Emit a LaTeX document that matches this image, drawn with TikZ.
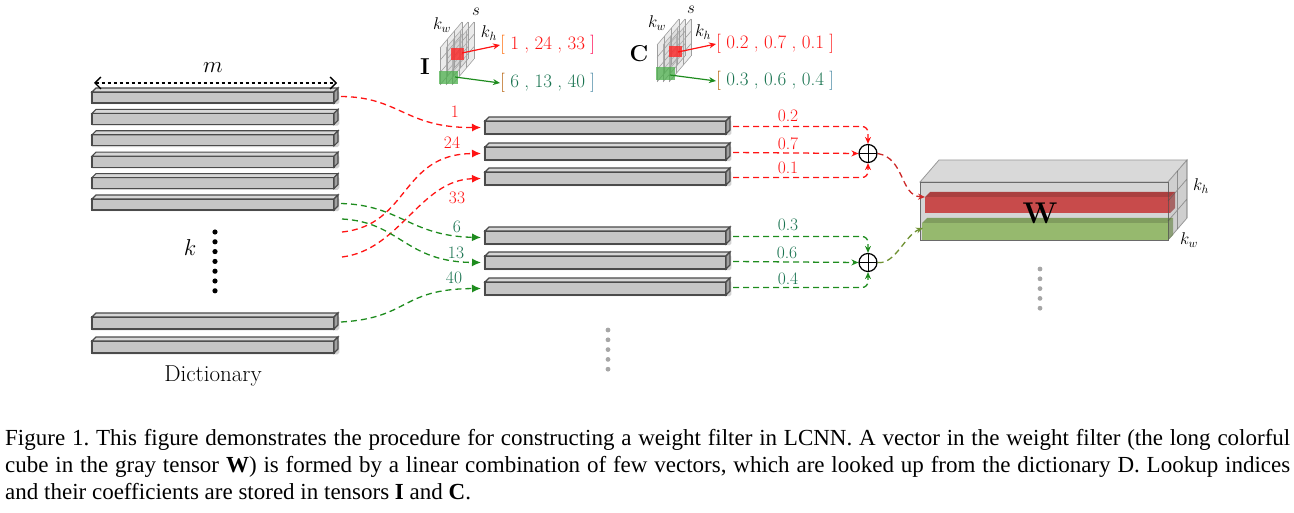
\RequirePackage{fix-cm}
\documentclass[tikz,border=0pt]{standalone}
\usepackage{fontspec}
\newfontfamily\capfont{Liberation Serif}
\usetikzlibrary{arrows.meta,calc}
\definecolor{barfill}{RGB}{198,198,198}
\definecolor{bartop}{RGB}{215,215,215}
\definecolor{barend}{RGB}{160,160,160}
\definecolor{baredge}{RGB}{75,75,75}
\definecolor{myred}{RGB}{255,20,20}
\definecolor{mygreen}{RGB}{30,140,30}
\definecolor{tealtxt}{RGB}{25,115,80}
\definecolor{wred}{RGB}{200,75,75}
\definecolor{wgreen}{RGB}{150,185,110}
\definecolor{olivearr}{RGB}{110,145,50}
\definecolor{darkredarr}{RGB}{205,40,40}
\newcommand{\vsp}{\hspace{5.4pt}}
\newcommand{\flatbar}[5]{%
  \draw[gray!35,line width=2.5pt,rounded corners=1pt] ({#2},{#3}) rectangle ++({#4+4},{#5});
  \filldraw[fill=barfill,draw=baredge,line width=1.1pt] ({#2},{#3}) rectangle ++({#4},{#5});
  \filldraw[fill=bartop,draw=baredge,line width=1.1pt] ({#2},{#3}) -- ++(4,-4) -- ++({#4},0) -- ++(-4,4) -- cycle;
  \filldraw[fill=barend,draw=baredge,line width=1.1pt] ({#2+#4},{#3}) -- ++(4,-4) -- ++(0,{#5}) -- ++(-4,4) -- cycle;
  \coordinate (#1w) at ({#2-4},{#3+#5/2});
  \coordinate (#1e) at ({#2+#4+7},{#3+#5/2-1});
}
\newcommand{\slicecube}[2]{%
  \foreach \i in {2,1,0}{%
    \begin{scope}[shift={({#1+6*\i},{#2})}]
      \fill[gray!45,opacity=0.35] (0,0) -- (0,-37) -- (22,-63) -- (22,-26) -- cycle;
      \foreach \t in {0,0.3333,0.6667,1}{%
        \draw[gray!75,line width=0.6pt] (0,{-37*\t}) -- (22,{-26-37*\t});
        \draw[gray!75,line width=0.6pt] ({22*\t},{-26*\t}) -- ({22*\t},{-26*\t-37});
      }
    \end{scope}
  }
}
\tikzset{
  dashr/.style={myred,dash pattern=on 6pt off 4pt,line width=1.3pt},
  dashg/.style={mygreen,dash pattern=on 6pt off 4pt,line width=1.3pt},
  bigtip/.style={-{Latex[length=9pt,width=8pt]}},
  smalltip/.style={-{Stealth[length=7pt,width=6pt]}},
  numlab/.style={font=\fontsize{17.5}{20}\selectfont,inner sep=0pt},
  vecrow/.style={font=\fontsize{19}{22}\selectfont,inner sep=0pt,anchor=west},
  bigtxt/.style={font=\fontsize{23}{27}\selectfont,inner sep=0pt},
  cubelab/.style={font=\fontsize{17}{20}\selectfont,inner sep=0pt},
  caplab/.style={font=\capfont\fontsize{23}{27}\selectfont\frenchspacing,inner sep=0pt,anchor=base west},
  oplusnode/.style={circle,draw,line width=1.2pt,minimum size=18pt,inner sep=0pt,
    path picture={\draw[line width=1pt] (path picture bounding box.north) -- (path picture bounding box.south)
      (path picture bounding box.west) -- (path picture bounding box.east);}},
}
\begin{document}
\begin{tikzpicture}[x=1pt,y=-1pt]
\useasboundingbox (0,0) rectangle (1294,513);
% ---------- Dictionary ----------
\flatbar{d1}{92}{92}{242}{11}
\flatbar{d2}{92}{113.4}{242}{11}
\flatbar{d3}{92}{134.8}{242}{11}
\flatbar{d4}{92}{156.2}{242}{11}
\flatbar{d5}{92}{177.6}{242}{11}
\flatbar{d6}{92}{199}{242}{11}
\flatbar{d7}{92}{317}{242}{12}
\flatbar{d8}{92}{341}{242}{12}
\coordinate (mL) at (94,83);
\coordinate (mR) at (337,83);
\draw[dashed,line width=1.3pt,{Straight Barb[length=6pt,width=12pt]}-{Straight Barb[length=6pt,width=12pt]}] (mL) -- (mR);
\node[bigtxt] (mlab) at (213,68) {$m$};
\node[bigtxt] (klab) at (190,248) {$k$};
\foreach \k in {0,...,6} \fill (215,{232+\k*9.8}) circle (2.6pt);
\node[bigtxt] (dict) at (213,376) {Dictionary};
% ---------- middle bars ----------
\flatbar{m1}{485}{121}{241}{13}
\flatbar{m2}{485}{147}{241}{13}
\flatbar{m3}{485}{172}{241}{13}
\flatbar{m4}{485}{231}{241}{13}
\flatbar{m5}{485}{256}{241}{13}
\flatbar{m6}{485}{282}{241}{13}
\foreach \k in {0,...,4} \fill[gray!70] (608,{330+\k*9.8}) circle (2.4pt);
% free ends of lookup connectors
\coordinate (r2s) at (342,232);
\coordinate (r3s) at (342,257);
\coordinate (g2s) at (342,219);
% red lookups
\draw[dashr,bigtip] (d1e) .. controls (400,97) and (405,128) .. (m1w);
\draw[dashr,bigtip] (r2s) .. controls (410,225) and (400,154) .. (m2w);
\draw[dashr,bigtip] (r3s) .. controls (400,250) and (420,180) .. (m3w);
% green lookups
\draw[dashg,bigtip] (d6e) .. controls (400,205) and (410,236) .. (m4w);
\draw[dashg,bigtip] (g2s) .. controls (400,222) and (405,262) .. (m5w);
\draw[dashg,bigtip] (d7e) .. controls (410,318) and (400,289) .. (m6w);
\node[numlab,myred] (n1) at (455,112) {1};
\node[numlab,myred] (n24) at (452,143) {24};
\node[numlab,myred] (n33) at (457,198) {33};
\node[numlab,tealtxt] (n6) at (457,227) {6};
\node[numlab,tealtxt] (n13) at (456,253) {13};
\node[numlab,tealtxt] (n40) at (454,278) {40};
% ---------- sums ----------
\node[oplusnode] (p1) at (868,153.5) {};
\node[oplusnode] (p2) at (868,262.5) {};
\draw[dashr,smalltip,rounded corners=6pt] (m1e) -| (p1.north);
\draw[dashr,smalltip] (m2e) -- (p1.west);
\draw[dashr,smalltip,rounded corners=6pt] (m3e) -| (p1.south);
\draw[dashg,smalltip,rounded corners=6pt] (m4e) -| (p2.north);
\draw[dashg,smalltip] (m5e) -- (p2.west);
\draw[dashg,smalltip,rounded corners=6pt] (m6e) -| (p2.south);
\node[numlab,myred] (c1) at (788,116) {0.2};
\node[numlab,myred] (c2) at (788,144) {0.7};
\node[numlab,myred] (c3) at (788,168) {0.1};
\node[numlab,tealtxt] (c4) at (788,225) {0.3};
\node[numlab,tealtxt] (c5) at (787,253) {0.6};
\node[numlab,tealtxt] (c6) at (788,279) {0.4};
% ---------- W tensor ----------
\filldraw[fill=gray!30,draw=gray!80,line width=0.8pt] (920,182) -- (939,160) -- (1187,160) -- (1168,182) -- cycle;
\filldraw[fill=gray!38,draw=gray!80,line width=0.8pt] (1168,182) -- (1187,160) -- (1187,218) -- (1168,240) -- cycle;
\filldraw[fill=gray!33,draw=gray!80,line width=0.8pt] (920,182) rectangle (1168,240);
% red vector
\fill[wred!85!black] (925,197) -- (930,192) -- (1175,192) -- (1170,197) -- cycle;
\fill[wred] (925,197) rectangle (1170,213);
\fill[wred!75!black,opacity=0.7] (1170,197) -- (1175,192) -- (1175,208) -- (1170,213) -- cycle;
\coordinate (wr) at (925,197);
% green vector
\fill[wgreen!85!black] (922,223) -- (927,218) -- (1173,218) -- (1168,223) -- cycle;
\fill[wgreen] (922,223) rectangle (1168,240);
\fill[wgreen!75!black,opacity=0.7] (1168,223) -- (1173,218) -- (1173,235) -- (1168,240) -- cycle;
\coordinate (wg) at (923,228);
% outline / grid over
\draw[gray!60!black,opacity=0.6,line width=0.8pt] (920,182) rectangle (1168,240);
\draw[gray!60!black,opacity=0.5,line width=0.7pt] (1168,201) -- (1187,179) (1168,221) -- (1187,199) (1177.5,171) -- (1177.5,229) (1187,160) -- (1187,218);
\node[font=\fontsize{30}{34}\selectfont\bfseries,inner sep=0pt] (W) at (1040,213) {W};
\node[cubelab] (wkh) at (1201,186) {$k_h$};
\node[cubelab] (wkw) at (1189,240) {$k_w$};
\foreach \k in {0,...,4} \fill[gray!70] (1040,{269+\k*9.8}) circle (2.4pt);
\draw[darkredarr,dash pattern=on 6pt off 4pt,line width=1.3pt,-{Stealth[length=7pt,width=6pt]}] (p1.east) .. controls (905,158) and (900,196) .. (wr);
\draw[olivearr,dash pattern=on 6pt off 4pt,line width=1.3pt,-{Stealth[length=7pt,width=6pt]}] (p2.east) .. controls (895,265) and (905,235) .. (wg);
% ---------- I tensor ----------
\slicecube{440}{85}
\fill[red!85,opacity=0.8] (451,48) rectangle (464,60);
\fill[green!55!black!70,opacity=0.75] (439,71) rectangle (458,84);
\node[font=\fontsize{23}{27}\selectfont\bfseries,inner sep=0pt] (Ilab) at (425,67) {I};
\node[cubelab] (Ikw) at (442,25) {$k_w$};
\node[cubelab] (Is) at (476,12) {$s$};
\node[cubelab] (Ikh) at (489,33) {$k_h$};
\node[vecrow] (Ir) at (500,45) {\textcolor{orange!80!red}{[}\textcolor{myred}{\vsp 1\vsp,\vsp 24\vsp,\vsp 33\vsp}\textcolor{red!70!magenta}{]}};
\node[vecrow] (Ig) at (500,83) {\textcolor{orange!70!black}{[}\textcolor{tealtxt}{\vsp 6\vsp,\vsp 13\vsp,\vsp 40\vsp}\textcolor{cyan!60!black}{]}};
\coordinate (Ira) at (462,53);
\coordinate (Iga) at (455,77);
\draw[myred,line width=1.2pt,-{Stealth[length=7pt,width=6pt]}] (Ira) -- (Ir.west);
\draw[mygreen,line width=1.2pt,-{Stealth[length=7pt,width=6pt]}] (Iga) -- (Ig.west);
% ---------- C tensor ----------
\slicecube{657}{82}
\fill[red!85,opacity=0.8] (669,46) rectangle (682,57);
\fill[green!55!black!70,opacity=0.75] (656,67) rectangle (675,80);
\node[font=\fontsize{23}{27}\selectfont\bfseries,inner sep=0pt] (Clab) at (639,54) {C};
\node[cubelab] (Ckw) at (657,23) {$k_w$};
\node[cubelab] (Cs) at (691,10) {$s$};
\node[cubelab] (Ckh) at (703,32) {$k_h$};
\node[vecrow] (Cr) at (716,44) {\textcolor{myred}{[\vsp 0.2\vsp,\vsp 0.7\vsp,\vsp 0.1\vsp]}};
\node[vecrow] (Cg) at (716,81) {\textcolor{orange!70!black}{[}\textcolor{tealtxt}{\vsp 0.3\vsp,\vsp 0.6\vsp,\vsp 0.4\vsp}\textcolor{cyan!60!black}{]}};
\coordinate (Cra) at (678,52);
\coordinate (Cga) at (670,75);
\draw[myred,line width=1.2pt,-{Stealth[length=7pt,width=6pt]}] (Cra) -- (Cr.west);
\draw[mygreen,line width=1.2pt,-{Stealth[length=7pt,width=6pt]}] (Cga) -- (Cg.west);
% ---------- caption ----------
\node[caplab] (cap1) at (5,445) {\makebox[1285pt][s]{Figure 1. This figure demonstrates the procedure for constructing a weight filter in LCNN. A vector in the weight filter (the long colorful}};
\node[caplab] (cap2) at (5,472) {\makebox[1285pt][s]{cube in the gray tensor \textbf{W}) is formed by a linear combination of few vectors, which are looked up from the dictionary D. Lookup indices}};
\node[caplab] (cap3) at (5,499) {and their coefficients are stored in tensors \textbf{I} and \textbf{C}.};
\end{tikzpicture}
\end{document}
